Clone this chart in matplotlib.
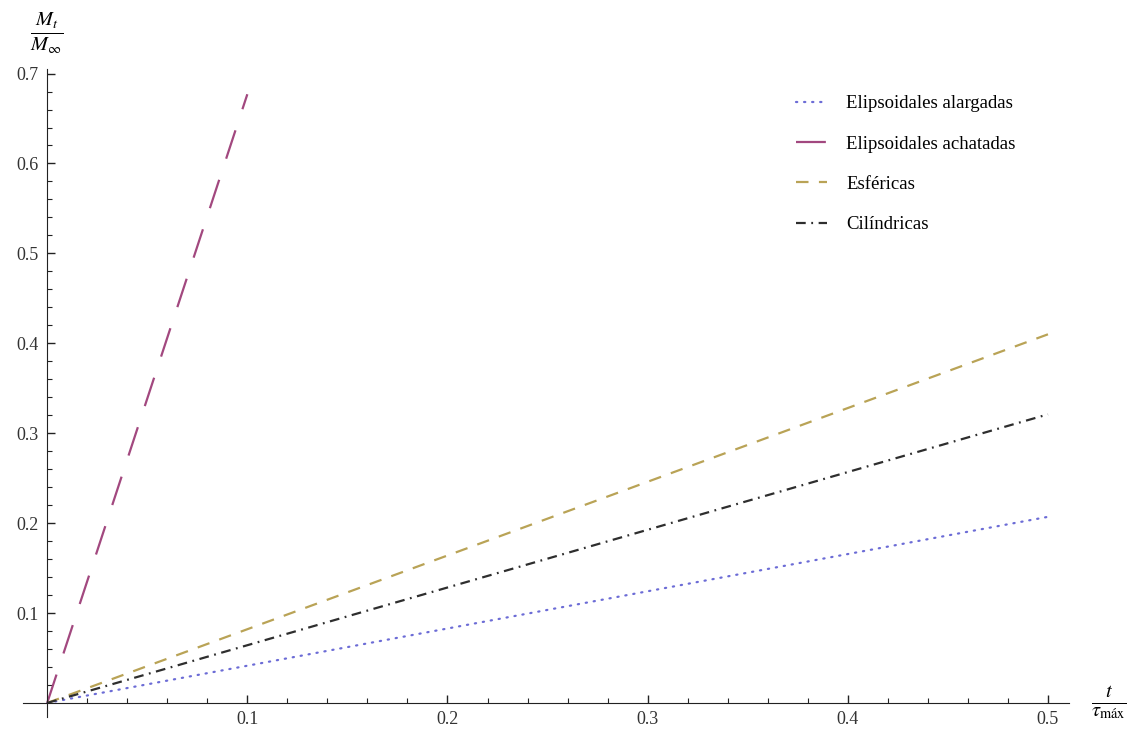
import matplotlib.pyplot as plt
import numpy as np

plt.rcParams['font.family'] = ['Liberation Serif', 'DejaVu Serif']
plt.rcParams['mathtext.fontset'] = 'stix'
plt.rcParams['lines.scale_dashes'] = False

# t / tau_max  vs  M_t / M_inf  (straight lines from the origin)
x_alargadas = [0.0, 0.5]
y_alargadas = [0.0, 0.207]
x_achatadas = [0.0, 0.1]
y_achatadas = [0.0, 0.677]
x_esfericas = [0.0, 0.5]
y_esfericas = [0.0, 0.410]
x_cilindricas = [0.0, 0.5]
y_cilindricas = [0.0, 0.321]

labels = ['Elipsoidales alargadas', 'Elipsoidales achatadas', 'Esféricas', 'Cilíndricas']

fig = plt.figure(figsize=(11.3, 7.29), dpi=100)
ax = fig.add_axes([0.0205, 0.0165, 0.9255, 0.8895])

ax.plot(x_alargadas, y_alargadas, color='#6c6cd6', lw=1.6, dashes=(0.9, 4.9),
        dash_capstyle='round', label=labels[0])
ax.plot(x_achatadas, y_achatadas, color='#a2487f', lw=1.6, dashes=(21.5, 16),
        label=labels[1])
ax.plot(x_esfericas, y_esfericas, color='#b9a356', lw=1.6, dashes=(9, 7.5),
        label=labels[2])
ax.plot(x_cilindricas, y_cilindricas, color='#2e2e2e', lw=1.6,
        dashes=(7, 4, 1.3, 4), label=labels[3])

ax.set_xlim(-0.012, 0.5105)
ax.set_ylim(-0.0156, 0.7056)

for s in ['top', 'right']:
    ax.spines[s].set_visible(False)
ax.spines['left'].set_position(('data', 0))
ax.spines['bottom'].set_position(('data', 0))
ax.spines['left'].set_color('#222222')
ax.spines['bottom'].set_color('#222222')

ax.set_xticks([0.1, 0.2, 0.3, 0.4, 0.5])
ax.set_xticks(np.arange(0.02, 0.51, 0.02), minor=True)
ax.set_yticks([0.1, 0.2, 0.3, 0.4, 0.5, 0.6, 0.7])
ax.set_yticks(np.arange(0.02, 0.71, 0.02), minor=True)
ax.set_xticklabels(['0.1', '0.2', '0.3', '0.4', '0.5'])
ax.set_yticklabels(['0.1', '0.2', '0.3', '0.4', '0.5', '0.6', '0.7'])
ax.tick_params(which='major', direction='in', length=6, width=1, labelsize=13,
               colors='#222222', labelcolor='#333333', pad=6)
ax.tick_params(which='minor', direction='in', length=3.5, width=0.8, colors='#222222')

ax.text(0.0, 0.745, r'$\frac{M_t}{M_\infty}$', fontsize=21, ha='center', va='center',
        transform=ax.transData, clip_on=False)
ax.text(0.5305, 0.0, r'$\frac{t}{\tau_{\mathrm{máx}}}$', fontsize=21, ha='center',
        va='center', transform=ax.transData, clip_on=False)

ax.legend(loc='upper right', bbox_to_anchor=(0.965, 0.985), frameon=False, fontsize=13.5,
          handlelength=1.7, handletextpad=1.0, labelspacing=1.24)

plt.savefig('out.png', dpi=100)
